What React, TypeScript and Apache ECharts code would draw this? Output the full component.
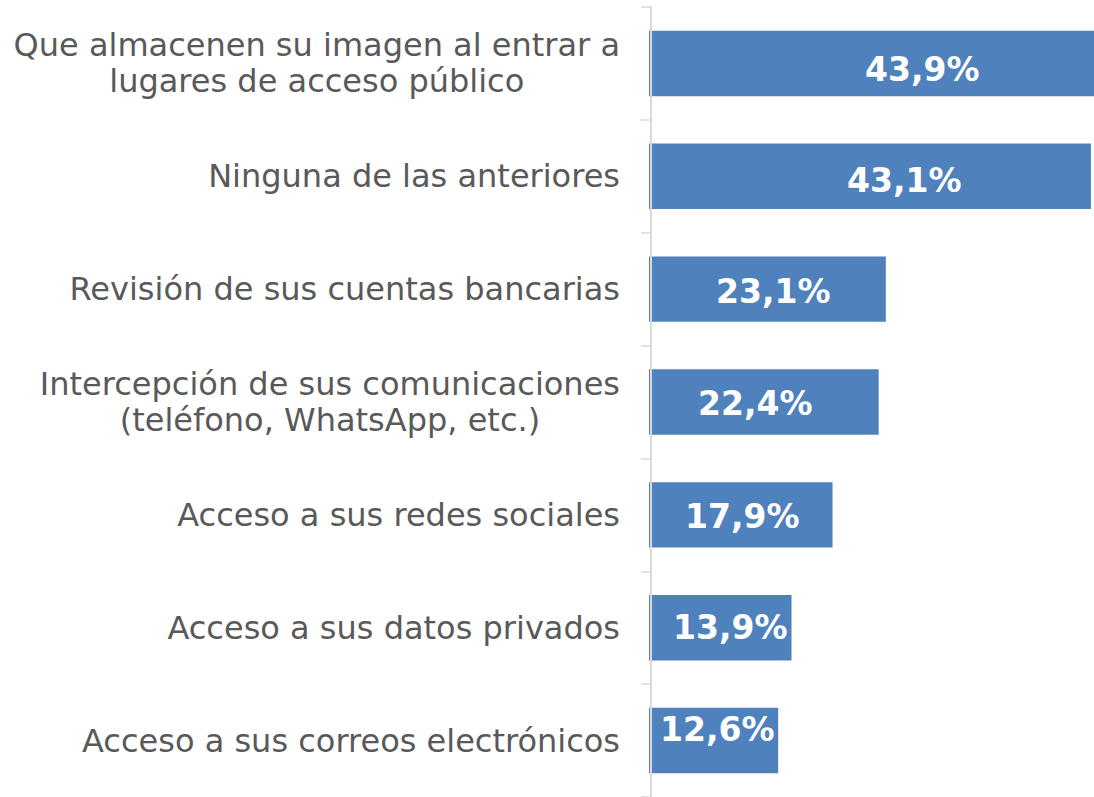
import React, { useEffect, useRef } from "react";
import * as echarts from "echarts";

const categories = [
  "Que almacenen su imagen al entrar a\nlugares de acceso público",
  "Ninguna de las anteriores",
  "Revisión de sus cuentas bancarias",
  "Intercepción de sus comunicaciones\n(teléfono, WhatsApp, etc.)",
  "Acceso a sus redes sociales",
  "Acceso a sus datos privados",
  "Acceso a sus correos electrónicos",
];
const values = [43.9, 43.1, 23.1, 22.4, 17.9, 13.9, 12.6];
const valueLabels = ["43,9%", "43,1%", "23,1%", "22,4%", "17,9%", "13,9%", "12,6%"];
// label offsets from the bar's left edge (style only)
const labelOffsets: [number, number][] = [
  [211, 6],
  [193, 4],
  [62, 2],
  [44, 1],
  [31, 2],
  [19, 0],
  [6, -11],
];

const FONT = "'DejaVu Sans', 'Open Sans', sans-serif";

export default function App() {
  const ref = useRef<HTMLDivElement>(null);
  useEffect(() => {
    if (!ref.current) return;
    const chart = echarts.init(ref.current, null, { renderer: "svg" });
    chart.setOption({
      animation: false,
      grid: { left: 649, right: 0, top: 7, height: 792, containLabel: false },
      xAxis: {
        type: "value",
        min: 0,
        max: 43.4,
        show: false,
      },
      yAxis: {
        type: "category",
        data: categories,
        inverse: true,
        offset: -2,
        z: 5,
        axisLine: { show: true, lineStyle: { color: "#d9d9d9", width: 2 } },
        axisTick: { show: true, length: 10, lineStyle: { color: "#d9d9d9", width: 1.5 } },
        axisLabel: {
          margin: 31,
          color: "#595959",
          fontFamily: FONT,
          fontSize: 32,
          lineHeight: 36,
          align: "right",
          formatter: (v: string) =>
            v.indexOf("\n") >= 0
              ? v
                  .split("\n")
                  .map((l) => "{c|" + l + "}")
                  .join("\n")
              : v,
          rich: {
            c: {
              align: "center",
              color: "#595959",
              fontFamily: FONT,
              fontSize: 32,
              lineHeight: 36,
            },
          },
        },
      },
      series: [
        {
          type: "bar",
          clip: true,
          z: 2,
          barCategoryGap: "42%",
          itemStyle: { color: "#4f81bd" },
          data: values.map((v, i) => ({
            value: v,
            label: {
              show: true,
              position: "insideLeft",
              distance: 5,
              offset: labelOffsets[i],
              formatter: valueLabels[i],
              color: "#ffffff",
              fontFamily: FONT,
              fontWeight: "bold",
              fontSize: 33,
            },
          })),
        },
      ],
    });
    return () => chart.dispose();
  }, []);
  return (
    <div
      ref={ref}
      style={{ position: "fixed", left: 0, top: 0, width: 1094, height: 797, background: "#fff", overflow: "hidden" }}
    />
  );
}
